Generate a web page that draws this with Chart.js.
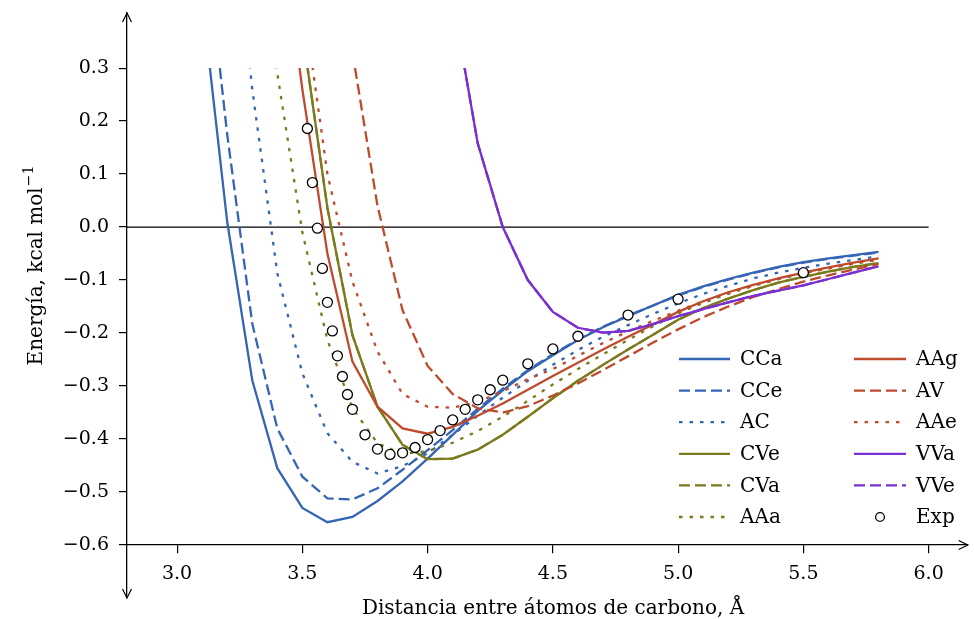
<!DOCTYPE html>
<html>
<head>
<meta charset="utf-8">
<script src="https://cdn.jsdelivr.net/npm/chart.js@4.4.1/dist/chart.umd.min.js"></script>
<style>
  html, body { margin: 0; padding: 0; background: #fff; }
</style>
</head>
<body>
<canvas id="chart" width="974" height="619"></canvas>
<script>
// distance grid (Å) shared by all computed curves
const dist = [3.1, 3.2, 3.3, 3.4, 3.5, 3.6, 3.7, 3.8, 3.9, 4.0, 4.1, 4.2, 4.3, 4.4,
  4.5, 4.6, 4.7, 4.8, 4.9, 5.0, 5.1, 5.2, 5.3, 5.4, 5.5, 5.6, 5.7, 5.8];

const CCa = [0.43, 0.01, -0.289, -0.455, -0.530, -0.557, -0.547, -0.517, -0.480, -0.437,
  -0.392, -0.347, -0.308, -0.272, -0.242, -0.213, -0.189, -0.168, -0.148, -0.128,
  -0.112, -0.098, -0.086, -0.075, -0.066, -0.059, -0.053, -0.047];
const CCe = [0.60, 0.175, -0.182, -0.380, -0.471, -0.512, -0.514, -0.493, -0.458, -0.421,
  -0.383, -0.343, -0.305, -0.270, -0.240, -0.212, -0.188, -0.167, -0.148, -0.129,
  -0.113, -0.099, -0.087, -0.076, -0.067, -0.060, -0.054, -0.048];
const AC = [null, 0.70, 0.26, -0.087, -0.276, -0.389, -0.443, -0.465, -0.451, -0.427,
  -0.392, -0.356, -0.322, -0.290, -0.260, -0.232, -0.207, -0.185, -0.164, -0.144,
  -0.126, -0.111, -0.097, -0.086, -0.077, -0.069, -0.062, -0.055];
const CVe = [null, null, null, null, 0.37, 0.036, -0.204, -0.339, -0.411, -0.438,
  -0.437, -0.420, -0.392, -0.358, -0.323, -0.290, -0.260, -0.231, -0.203, -0.175,
  -0.153, -0.135, -0.119, -0.105, -0.094, -0.084, -0.075, -0.068];
const CVa = CVe.slice();
const AAa = [null, null, 0.60, 0.29, -0.01, -0.213, -0.342, -0.408, -0.428, -0.423,
  -0.407, -0.385, -0.358, -0.328, -0.297, -0.268, -0.240, -0.213, -0.187, -0.163,
  -0.143, -0.126, -0.111, -0.098, -0.087, -0.078, -0.069, -0.062];
const AAg = [null, null, null, 0.62, 0.26, -0.05, -0.254, -0.339, -0.380, -0.390,
  -0.377, -0.356, -0.333, -0.307, -0.281, -0.256, -0.231, -0.207, -0.184, -0.160,
  -0.140, -0.123, -0.109, -0.097, -0.086, -0.076, -0.067, -0.059];
const AV = [null, null, null, null, null, null, 0.33, 0.04, -0.157, -0.262,
  -0.315, -0.342, -0.350, -0.338, -0.318, -0.295, -0.270, -0.244, -0.218, -0.193,
  -0.170, -0.150, -0.132, -0.117, -0.103, -0.091, -0.080, -0.070];
const AAe = [null, null, null, null, 0.44, 0.10, -0.103, -0.235, -0.315, -0.339,
  -0.341, -0.330, -0.310, -0.287, -0.268, -0.243, -0.219, -0.197, -0.177, -0.158,
  -0.140, -0.124, -0.110, -0.098, -0.087, -0.078, -0.069, -0.061];
const VVa = [null, null, null, null, null, null, null, null, null, null,
  0.43, 0.158, 0.0, -0.100, -0.160, -0.190, -0.199, -0.196, -0.183, -0.168,
  -0.155, -0.142, -0.130, -0.120, -0.110, -0.098, -0.086, -0.074];
const VVe = VVa.slice();

// experimental points
const expDist = [3.52, 3.54, 3.56, 3.58, 3.60, 3.62, 3.64, 3.66, 3.68, 3.70, 3.75, 3.80,
  3.85, 3.90, 3.95, 4.00, 4.05, 4.10, 4.15, 4.20, 4.25, 4.30, 4.40, 4.50, 4.60, 4.80, 5.00, 5.50];
const expEnergy = [0.186, 0.084, -0.002, -0.078, -0.142, -0.196, -0.243, -0.282, -0.316, -0.344,
  -0.392, -0.419, -0.429, -0.426, -0.416, -0.401, -0.384, -0.364, -0.344, -0.326, -0.307,
  -0.289, -0.258, -0.230, -0.206, -0.166, -0.136, -0.086];

const xTicks = [3.0, 3.5, 4.0, 4.5, 5.0, 5.5, 6.0];
const yTicks = [-0.6, -0.5, -0.4, -0.3, -0.2, -0.1, 0.0, 0.1, 0.2, 0.3];

const blue = '#3565b4', olive = '#7b7b1e', red = '#bf4a2c', purple = '#7a2fd0';
const DASH = [11, 5], DOT = [3.5, 7];
const FONT = '"DejaVu Serif", "Liberation Serif", serif';

const toPts = (xs, ys) => xs.map((x, i) => ({ x: x, y: ys[i] }));

const series = [
  ['CCa', CCa, blue, []], ['CCe', CCe, blue, DASH], ['AC', AC, blue, DOT],
  ['CVe', CVe, olive, []], ['CVa', CVa, olive, DASH], ['AAa', AAa, olive, DOT],
  ['AAg', AAg, red, []], ['AV', AV, red, DASH], ['AAe', AAe, red, DOT],
  ['VVa', VVa, purple, []], ['VVe', VVe, purple, DASH]
];

const datasets = series.map(([label, ys, color, dash], i) => ({
  label: label,
  data: toPts(dist, ys),
  borderColor: color,
  backgroundColor: color,
  borderDash: dash,
  borderWidth: 2.3,
  pointRadius: 0,
  fill: false,
  order: 20 - i
}));
datasets.push({
  label: 'Exp',
  data: toPts(expDist, expEnergy),
  showLine: false,
  pointRadius: 5,
  pointBorderWidth: 1.3,
  pointBackgroundColor: '#fff',
  pointBorderColor: '#000',
  borderColor: '#000',
  backgroundColor: '#fff',
  order: 0
});
// zero reference line
datasets.push({
  label: 'zero',
  data: [{ x: 2.8, y: 0 }, { x: 6.0, y: 0 }],
  borderColor: '#000',
  borderWidth: 1.3,
  pointRadius: 0,
  order: 50
});

const decor = {
  id: 'decor',
  beforeDatasetsDraw(chart) {
    const { ctx, chartArea } = chart;
    const top = chart.scales.y.getPixelForValue(yTicks[yTicks.length - 1]);
    ctx.save();
    ctx.beginPath();
    ctx.rect(chartArea.left, top, chartArea.right - chartArea.left, chartArea.bottom - top);
    ctx.clip();
  },
  afterDatasetsDraw(chart) {
    chart.ctx.restore();
  },
  afterDraw(chart) {
    const { ctx, chartArea } = chart;
    const x0 = chartArea.left;
    const yAxis = chart.scales.y.getPixelForValue(-0.6);
    ctx.save();
    ctx.strokeStyle = '#000';
    ctx.lineWidth = 1.2;
    const head = (pts) => {
      ctx.beginPath();
      ctx.moveTo(pts[0], pts[1]);
      ctx.lineTo(pts[2], pts[3]);
      ctx.lineTo(pts[4], pts[5]);
      ctx.stroke();
    };
    head([x0 - 4.5, chartArea.top + 9, x0, chartArea.top, x0 + 4.5, chartArea.top + 9]);
    head([x0 - 4.5, chartArea.bottom - 9, x0, chartArea.bottom, x0 + 4.5, chartArea.bottom - 9]);
    head([chartArea.right - 9, yAxis - 4.5, chartArea.right, yAxis, chartArea.right - 9, yAxis + 4.5]);

    // axis titles
    ctx.fillStyle = '#000';
    ctx.font = '20px ' + FONT;
    ctx.textAlign = 'center';
    ctx.textBaseline = 'alphabetic';
    ctx.fillText('Distancia entre átomos de carbono, Å', 553, 614);

    ctx.translate(42, 266);
    ctx.rotate(-Math.PI / 2);
    const main = 'Energía, kcal mol';
    const sup = '−1';
    ctx.font = '20px ' + FONT;
    const wMain = ctx.measureText(main).width;
    ctx.font = '14px ' + FONT;
    const wSup = ctx.measureText(sup).width;
    const start = -(wMain + wSup) / 2;
    ctx.textAlign = 'left';
    ctx.font = '20px ' + FONT;
    ctx.fillText(main, start, 0);
    ctx.font = '14px ' + FONT;
    ctx.fillText(sup, start + wMain + 1, -9);
    ctx.restore();

    // legend, two columns
    ctx.save();
    ctx.font = '20px ' + FONT;
    ctx.textAlign = 'left';
    ctx.textBaseline = 'middle';
    const items = chart.data.datasets.slice(0, 12);
    items.forEach((ds, i) => {
      const col = i < 6 ? 0 : 1;
      const row = i % 6;
      const yy = 359 + row * 31.6;
      const sx = col ? 854 : 679;
      const ex = col ? 906 : 730;
      const tx = col ? 916 : 740;
      if (ds.label === 'Exp') {
        ctx.beginPath();
        ctx.arc(880, yy, 4.4, 0, Math.PI * 2);
        ctx.fillStyle = '#fff';
        ctx.fill();
        ctx.lineWidth = 1.3;
        ctx.strokeStyle = '#000';
        ctx.stroke();
      } else {
        ctx.beginPath();
        ctx.setLineDash(ds.borderDash);
        ctx.lineWidth = 2.3;
        ctx.strokeStyle = ds.borderColor;
        ctx.moveTo(sx, yy);
        ctx.lineTo(ex, yy);
        ctx.stroke();
        ctx.setLineDash([]);
      }
      ctx.fillStyle = '#000';
      ctx.fillText(ds.label, tx, yy + 1);
    });
    ctx.restore();
  }
};

const fmt = (v) => Number(v).toFixed(1).replace('-', '\u2212');

new Chart(document.getElementById('chart'), {
  type: 'line',
  data: { datasets: datasets },
  options: {
    responsive: false,
    animation: false,
    layout: { padding: { left: 0, top: 13, right: 4, bottom: 21 } },
    plugins: { legend: { display: false }, tooltip: { enabled: false } },
    scales: {
      x: {
        type: 'linear',
        min: 2.8,
        max: 6.156,
        position: { y: -0.6 },
        afterBuildTicks: (s) => { s.ticks = xTicks.map(v => ({ value: v })); },
        afterFit: (s) => { s.height = 0; s.paddingLeft = 0; s.paddingRight = 0; },
        grid: { display: true, drawOnChartArea: false, drawTicks: true, tickLength: 8, color: '#000', lineWidth: 1.2 },
        border: { display: true, color: '#000', width: 1.3 },
        ticks: { color: '#000', padding: 10, font: { family: FONT, size: 19 }, callback: fmt, maxRotation: 0, autoSkip: false }
      },
      y: {
        type: 'linear',
        min: -0.7,
        max: 0.404,
        position: 'left',
        afterBuildTicks: (s) => { s.ticks = yTicks.map(v => ({ value: v })); },
        afterFit: (s) => { s.width = 127; s.paddingTop = 0; s.paddingBottom = 0; },
        grid: { display: true, drawOnChartArea: false, drawTicks: true, tickLength: 8, color: '#000', lineWidth: 1.2 },
        border: { display: true, color: '#000', width: 1.3 },
        ticks: { color: '#000', padding: 10, font: { family: FONT, size: 19 }, callback: fmt, autoSkip: false }
      }
    }
  },
  plugins: [decor]
});
</script>
</body>
</html>
